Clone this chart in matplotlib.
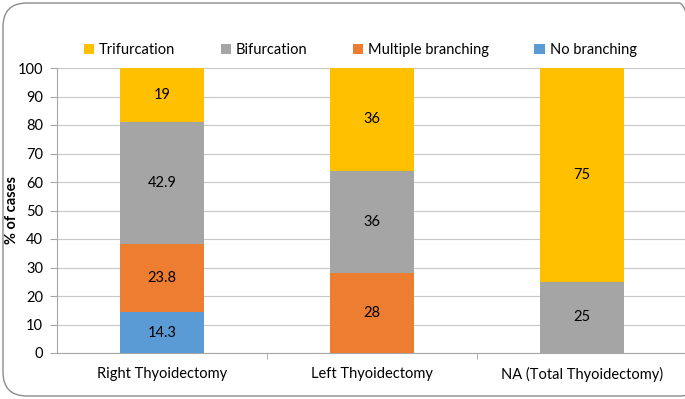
import matplotlib.pyplot as plt
from matplotlib.patches import FancyBboxPatch

categories = ["Right Thyoidectomy", "Left Thyoidectomy", "NA (Total Thyoidectomy)"]
no_branching = [14.3, 0, 0]
multiple_branching = [23.8, 28, 0]
bifurcation = [42.9, 36, 25]
trifurcation = [19, 36, 75]
yticks = list(range(0, 101, 10))

plt.rcParams['font.family'] = ['Lato', 'DejaVu Sans']

fig = plt.figure(figsize=(6.85, 3.99), dpi=100)
ax = fig.add_axes([57 / 685, 46 / 399, 630 / 685, 285 / 399])

series = [
    ("No branching", no_branching, "#5B9BD5"),
    ("Multiple branching", multiple_branching, "#ED7D31"),
    ("Bifurcation", bifurcation, "#A5A5A5"),
    ("Trifurcation", trifurcation, "#FFC000"),
]

x = list(range(len(categories)))
bottom = [0] * len(categories)
handles = {}
for name, vals, col in series:
    b = ax.bar(x, vals, 0.4, bottom=bottom, color=col, label=name, zorder=3)
    handles[name] = b
    for i, v in enumerate(vals):
        if v > 0:
            ax.text(x[i], bottom[i] + v / 2, f"{v:g}", ha="center", va="center",
                    fontsize=10.5, color="black", zorder=4)
    bottom = [bottom[i] + vals[i] for i in range(len(vals))]

ax.set_xlim(-0.5, 2.5)
ax.set_ylim(0, 100)
ax.set_yticks(yticks)
ax.set_xticks(x)
ax.set_xticklabels(categories, fontsize=10.5)
ax.tick_params(axis="y", labelsize=10.5, length=5, color="#A6A6A6", pad=5)
ax.tick_params(axis="x", length=0, pad=10)
ax.grid(axis="y", color="#C8C8C8", linewidth=0.8, zorder=0)
for s in ["top", "right"]:
    ax.spines[s].set_visible(False)
ax.spines["left"].set_color("#A6A6A6")
ax.spines["bottom"].set_color("#A6A6A6")
ax.set_xticks([0.5, 1.5], minor=True)
ax.tick_params(axis="x", which="minor", length=4, color="#A6A6A6")
ax.set_ylabel("% of cases", fontsize=10.5, fontweight="bold")
ax.yaxis.set_label_coords(-38 / 630, 0.5)

order = ["Trifurcation", "Bifurcation", "Multiple branching", "No branching"]
fig.legend([handles[n] for n in order], order, loc="center", bbox_to_anchor=(0.526, 0.875),
           ncol=4, frameon=False, fontsize=10.5, handlelength=0.7, handleheight=0.7,
           handletextpad=0.35, columnspacing=3.1)

border = FancyBboxPatch((3 / 685, 3 / 399), 700 / 685, 393 / 399,
                        boxstyle="round,pad=0,rounding_size=0.035",
                        transform=fig.transFigure, fill=False, edgecolor="#8C8C8C",
                        linewidth=1.0, mutation_aspect=685 / 399)
fig.patches.append(border)

fig.savefig("out.png", dpi=100)
